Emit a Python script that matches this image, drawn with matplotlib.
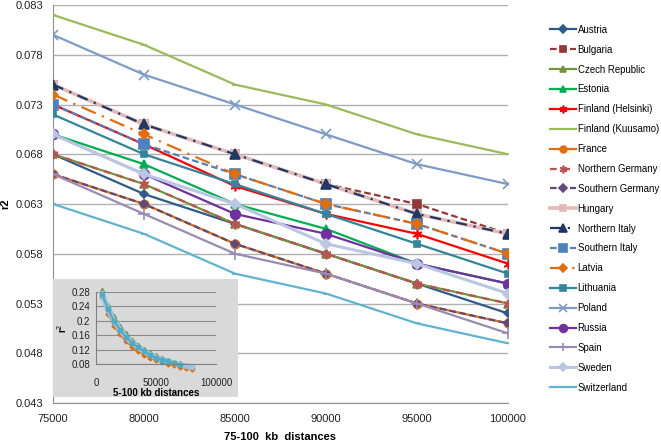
import matplotlib
matplotlib.use("Agg")
import matplotlib.pyplot as plt
from matplotlib.patches import Rectangle

plt.rcParams['font.family'] = ['Liberation Sans', 'DejaVu Sans']

distances = [75000, 80000, 85000, 90000, 95000, 100000]

austria = [0.068, 0.064, 0.061, 0.058, 0.055, 0.052]
bulgaria = [0.075, 0.071, 0.068, 0.065, 0.063, 0.060]
czech = [0.068, 0.065, 0.061, 0.058, 0.055, 0.053]
estonia = [0.070, 0.067, 0.063, 0.0605, 0.057, 0.055]
finland_hel = [0.073, 0.069, 0.0648, 0.062, 0.060, 0.057]
finland_kuu = [0.082, 0.079, 0.075, 0.073, 0.070, 0.068]
france = [0.066, 0.063, 0.059, 0.056, 0.053, 0.051]
n_germany = [0.068, 0.065, 0.061, 0.058, 0.055, 0.053]
s_germany = [0.066, 0.063, 0.059, 0.056, 0.053, 0.051]
hungary = [0.075, 0.071, 0.068, 0.065, 0.062, 0.060]
n_italy = [0.075, 0.071, 0.068, 0.065, 0.062, 0.060]
s_italy = [0.073, 0.069, 0.066, 0.063, 0.061, 0.058]
latvia = [0.074, 0.070, 0.066, 0.063, 0.061, 0.058]
lithuania = [0.072, 0.068, 0.065, 0.062, 0.059, 0.056]
poland = [0.080, 0.076, 0.073, 0.070, 0.067, 0.065]
russia = [0.070, 0.066, 0.062, 0.060, 0.057, 0.055]
spain = [0.066, 0.062, 0.058, 0.056, 0.053, 0.050]
sweden = [0.070, 0.066, 0.063, 0.059, 0.057, 0.054]
switzerland = [0.063, 0.060, 0.056, 0.054, 0.051, 0.049]

# inset (5-100 kb) estimated curves
inset_x = [5000, 10000, 15000, 20000, 25000, 30000, 35000, 40000, 45000,
           50000, 55000, 60000, 65000, 70000, 75000, 80000]
inset_upper = [0.285, 0.245, 0.212, 0.186, 0.165, 0.148, 0.134, 0.122, 0.112,
               0.104, 0.097, 0.091, 0.086, 0.082, 0.078, 0.075]
inset_mid = [0.275, 0.232, 0.200, 0.175, 0.155, 0.139, 0.126, 0.115, 0.106,
             0.098, 0.092, 0.087, 0.082, 0.078, 0.074, 0.071]
inset_lower = [0.265, 0.218, 0.186, 0.162, 0.143, 0.128, 0.116, 0.106, 0.098,
               0.091, 0.085, 0.080, 0.076, 0.072, 0.069, 0.067]

series = [
    ("Austria", austria, dict(color='#2E5A8C', ls='-', marker='D', ms=4.5)),
    ("Bulgaria", bulgaria, dict(color='#953735', ls=(0, (3, 1.5)), marker='s', ms=6)),
    ("Czech Republic", czech, dict(color='#77933C', ls='-', marker='^', ms=6)),
    ("Estonia", estonia, dict(color='#00B050', ls='-', marker='^', ms=6)),
    ("Finland (Helsinki)", finland_hel, dict(color='#FF0000', ls='-', marker=(6, 2, 0), ms=7)),
    ("Finland (Kuusamo)", finland_kuu, dict(color='#9BBB59', ls='-', marker='_', ms=4)),
    ("France", france, dict(color='#E46C0A', ls='-', marker='o', ms=6)),
    ("Northern Germany", n_germany, dict(color='#C0504D', ls=(0, (3, 3)), marker=(6, 2, 0), ms=7)),
    ("Southern Germany", s_germany, dict(color='#604A7B', ls=(0, (3, 1.5)), marker='D', ms=4.5)),
    ("Hungary", hungary, dict(color='#E6B9B8', ls='-', marker='s', ms=6, lw=2.6)),
    ("Northern Italy", n_italy, dict(color='#1F3864', ls=(0, (5, 3, 1, 3)), marker='^', ms=7)),
    ("Southern Italy", s_italy, dict(color='#4F81BD', ls=(0, (3, 1.5)), marker='s', ms=7)),
    ("Latvia", latvia, dict(color='#E46C0A', ls=(0, (7, 3, 1, 3)), marker='D', ms=5)),
    ("Lithuania", lithuania, dict(color='#31859C', ls='-', marker='s', ms=5)),
    ("Poland", poland, dict(color='#7E9BC8', ls='-', marker='x', ms=7)),
    ("Russia", russia, dict(color='#7030A0', ls='-', marker='o', ms=7)),
    ("Spain", spain, dict(color='#9A8BB5', ls='-', marker='+', ms=8)),
    ("Sweden", sweden, dict(color='#B9C7E3', ls='-', marker='D', ms=5, lw=2.2)),
    ("Switzerland", switzerland, dict(color='#5FB4D0', ls='-', marker='_', ms=4)),
]

fig = plt.figure(figsize=(6.61, 4.42), dpi=100)
ax = fig.add_axes([53/661, 1-403/442, (508-53)/661, 398/442])

for name, vals, st in series:
    lw = st.pop('lw', 1.6)
    ax.plot(distances, vals, label=name, linewidth=lw, markeredgewidth=1.2,
            zorder=3, **st)

ax.set_xlim(75000, 100000)
ax.set_ylim(0.043, 0.083)
ax.set_xticks([75000, 80000, 85000, 90000, 95000, 100000])
ax.set_yticks([0.043, 0.048, 0.053, 0.058, 0.063, 0.068, 0.073, 0.078, 0.083])
ax.set_yticklabels(['0.043', '0.048', '0.053', '0.058', '0.063', '0.068',
                    '0.073', '0.078', '0.083'])
ax.set_xticklabels(['75000', '80000', '85000', '90000', '95000', '100000'])
ax.tick_params(labelsize=8, length=0, colors='#222222')
ax.tick_params(axis='y', pad=7)
ax.tick_params(axis='x', pad=8)
ax.grid(axis='y', color='#b0b0b0', linewidth=1)
ax.set_axisbelow(True)
for s in ['top', 'right']:
    ax.spines[s].set_visible(False)
for s in ['left', 'bottom']:
    ax.spines[s].set_color('#909090')
ax.set_xlabel('75-100  kb  distances', fontsize=8, fontweight='bold', labelpad=6)
ax.set_ylabel('r2', fontsize=8, fontweight='bold', labelpad=4)

fig.legend(loc='upper left', bbox_to_anchor=(546/661, 1-21/442), frameon=False,
           fontsize=6.9, labelspacing=1.03, handlelength=2.7, handletextpad=0.2,
           borderaxespad=0, markerscale=0.8)

# inset
bg = Rectangle((53/661, 1-397/442), (238-53)/661, (397-279)/442,
               transform=fig.transFigure, facecolor='#d9d9d9', edgecolor='none',
               zorder=5)
fig.patches.append(bg)
iax = fig.add_axes([96/661, 1-364/442, 120/661, 72/442], zorder=6)
iax.set_facecolor('none')
iax.plot(inset_x, inset_upper, color='#77933C', lw=1.2, marker='^', ms=3, clip_on=False)
iax.plot(inset_x, inset_lower, color='#E46C0A', lw=1.2, marker='D', ms=2.5, clip_on=False)
iax.plot(inset_x, inset_mid, color='#9DC3E6', lw=4, clip_on=False)
iax.plot(inset_x[:-2], inset_mid[:-2], color='#4BACC6', lw=1.5, marker='s', ms=2.5, clip_on=False)
iax.set_xlim(0, 100000)
iax.set_ylim(0.08, 0.28)
iax.set_yticks([0.08, 0.12, 0.16, 0.2, 0.24, 0.28])
iax.set_yticklabels(['0.08', '0.12', '0.16', '0.2', '0.24', '0.28'])
iax.set_xticks([0, 50000, 100000])
iax.set_xticklabels(['0', '50000', '100000'])
iax.tick_params(labelsize=7, length=0, pad=4, colors='#222222')
iax.tick_params(axis='x', pad=10)
iax.grid(axis='y', color='#8a8a8a', linewidth=0.8)
iax.set_axisbelow(True)
for s in ['top', 'right']:
    iax.spines[s].set_visible(False)
for s in ['left', 'bottom']:
    iax.spines[s].set_color('#808080')
iax.set_xlabel('5-100 kb distances', fontsize=7, fontweight='bold', labelpad=0)
iax.set_ylabel('r$^2$', fontsize=7, fontweight='bold', labelpad=2)

fig.savefig('out.png', dpi=100)
